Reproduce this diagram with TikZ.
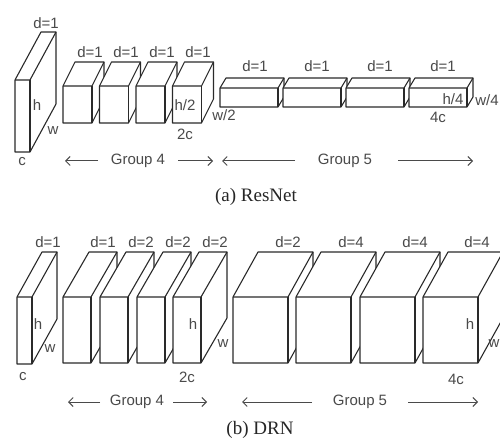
\documentclass[tikz,border=0pt]{standalone}
\usepackage{fontspec}
\setmainfont{Liberation Serif}
\setsansfont{Liberation Sans}
\usetikzlibrary{arrows.meta}
\definecolor{lc}{HTML}{2A2A2A}
\definecolor{tc}{HTML}{4A4A4A}
\tikzset{
  lbl/.style={font=\sffamily\fontsize{15}{15}\selectfont, text=tc, inner sep=0pt},
  captext/.style={font=\rmfamily\fontsize{19}{19}\selectfont, text=black!85, inner sep=0pt},
  grp/.style={draw=tc, line width=1pt, -{Straight Barb[length=4.5pt,width=9pt,line width=1pt]}},
  blk/.style={draw=lc, fill=white, line width=1.1pt, line join=round}
}
% name, x, y, w, h, dx, dy
\newcommand\myblock[7]{%
  \filldraw[blk] (#2,{#3+#5}) -- (#2,#3) -- ({#2+#6},{#3-#7}) -- ({#2+#4+#6},{#3-#7})
     -- ({#2+#4+#6},{#3+#5-#7}) -- ({#2+#4},{#3+#5}) -- cycle;
  \draw[blk, fill=none] (#2,#3) -- ({#2+#4},#3) -- ({#2+#4+#6},{#3-#7});
  \draw[blk, fill=none] ({#2+#4},#3) -- ({#2+#4},{#3+#5});
  \coordinate (#1) at (#2,#3);
}
\begin{document}
\begin{tikzpicture}[x=1pt,y=-1pt]
\clip (0,0) rectangle (500,443);
\fill[white] (0,0) rectangle (500,443);

% ---------------- (a) ResNet ----------------
\myblock{a0}{15}{80}{15}{72}{26}{48}
\foreach \i/\x in {1/63,2/99.5,3/136,4/172.5}{\myblock{a4\i}{\x}{86}{29}{37}{12}{24}}
\foreach \i/\x in {1/220,2/283,3/346,4/409}{\myblock{a5\i}{\x}{88}{58}{19}{6}{10}}

\node[lbl] (ad0) at (46,23) {d=1};
\node[lbl] (ah0) at (37,105) {h};
\node[lbl] (aw0) at (53,131) {w};
\node[lbl] (ac0) at (22,162) {c};
\node[lbl] (ad41) at (90,52) {d=1};
\node[lbl] (ad42) at (126,52) {d=1};
\node[lbl] (ad43) at (162,52) {d=1};
\node[lbl] (ad44) at (198,52) {d=1};
\node[lbl] (ah4) at (185,105) {h/2};
\node[lbl] (aw4) at (224,115) {w/2};
\node[lbl] (ac4) at (185,134) {2c};
\node[lbl] (ad51) at (255,66) {d=1};
\node[lbl] (ad52) at (317,66) {d=1};
\node[lbl] (ad53) at (380,66) {d=1};
\node[lbl] (ad54) at (443,66) {d=1};
\node[lbl] (ah5) at (453,99) {h/4};
\node[lbl] (aw5) at (487,100) {w/4};
\node[lbl] (ac5) at (438,117) {4c};

\node[lbl] (ag4) at (138,161) {Group 4};
\coordinate (ag4lt) at (98,161); \coordinate (ag4lh) at (65,161);
\coordinate (ag4rt) at (178,161); \coordinate (ag4rh) at (213,161);
\draw[grp] (ag4lt) -- (ag4lh);
\draw[grp] (ag4rt) -- (ag4rh);
\node[lbl] (ag5) at (345,161) {Group 5};
\coordinate (ag5lt) at (295,161); \coordinate (ag5lh) at (222,161);
\coordinate (ag5rt) at (398,161); \coordinate (ag5rh) at (473,161);
\draw[grp] (ag5lt) -- (ag5lh);
\draw[grp] (ag5rt) -- (ag5rh);

\node[captext] (capa) at (256,197) {(a) ResNet};

% ---------------- (b) DRN ----------------
\myblock{b0}{17}{297}{15}{67}{25}{45}
\foreach \i/\x in {1/63,2/100,3/137,4/173}{\myblock{b4\i}{\x}{297}{28}{66}{26}{45}}
\foreach \i/\x in {1/233,2/296,3/360,4/423}{\myblock{b5\i}{\x}{297}{55}{66}{25}{45}}

\node[lbl] (bd0) at (48,242) {d=1};
\node[lbl] (bh0) at (38,324) {h};
\node[lbl] (bw0) at (50,349) {w};
\node[lbl] (bc0) at (23,377) {c};
\node[lbl] (bd41) at (103,242) {d=1};
\node[lbl] (bd42) at (141,242) {d=2};
\node[lbl] (bd43) at (178,242) {d=2};
\node[lbl] (bd44) at (215,242) {d=2};
\node[lbl] (bh4) at (193,324) {h};
\node[lbl] (bw4) at (223,344) {w};
\node[lbl] (bc4) at (187,377) {2c};
\node[lbl] (bd51) at (288,242) {d=2};
\node[lbl] (bd52) at (351,242) {d=4};
\node[lbl] (bd53) at (415,242) {d=4};
\node[lbl] (bd54) at (477,242) {d=4};
\node[lbl] (bh5) at (470,324) {h};
\node[lbl] (bw5) at (494,344) {w};
\node[lbl] (bc5) at (456,379) {4c};

\node[lbl] (bg4) at (137,402) {Group 4};
\coordinate (bg4lt) at (100,402); \coordinate (bg4lh) at (68,402);
\coordinate (bg4rt) at (173,402); \coordinate (bg4rh) at (207,402);
\draw[grp] (bg4lt) -- (bg4lh);
\draw[grp] (bg4rt) -- (bg4rh);
\node[lbl] (bg5) at (360,402) {Group 5};
\coordinate (bg5lt) at (312,402); \coordinate (bg5lh) at (242,402);
\coordinate (bg5rt) at (408,402); \coordinate (bg5rh) at (478,402);
\draw[grp] (bg5lt) -- (bg5lh);
\draw[grp] (bg5rt) -- (bg5rh);

\node[captext] (capb) at (260,430) {(b) DRN};
\end{tikzpicture}
\end{document}
